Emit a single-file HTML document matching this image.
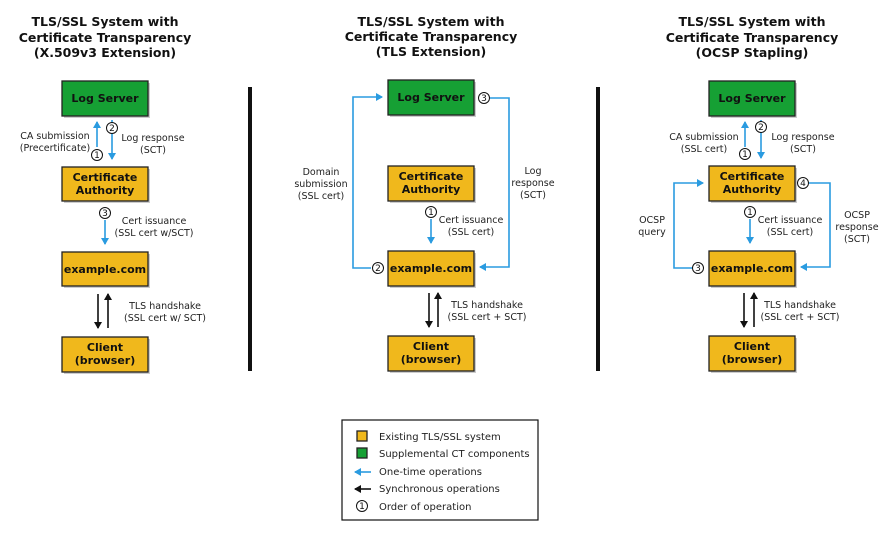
<!DOCTYPE html>
<html><head><meta charset="utf-8"><style>
html,body{margin:0;padding:0;background:#fff;}
svg{display:block;}
.t{font-family:"DejaVu Sans","Liberation Sans",sans-serif;font-weight:bold;font-size:12.5px;fill:#111;text-anchor:middle;}
.b{font-family:"DejaVu Sans","Liberation Sans",sans-serif;font-weight:bold;font-size:11px;fill:#111;text-anchor:middle;}
.l{font-family:"DejaVu Sans","Liberation Sans",sans-serif;font-size:9.5px;fill:#222;text-anchor:middle;}
.ll{font-family:"DejaVu Sans","Liberation Sans",sans-serif;font-size:10px;fill:#222;}
.n{font-family:"DejaVu Sans","Liberation Sans",sans-serif;font-size:9px;fill:#111;text-anchor:middle;}
.y{fill:#f0b81c;stroke:#222;stroke-width:1.3;}
.g{fill:#16a034;stroke:#222;stroke-width:1.3;}
.bl{stroke:#2a9be0;stroke-width:1.6;fill:none;}
.k{stroke:#111;stroke-width:1.6;fill:none;}
.c{fill:#fff;stroke:#111;stroke-width:1;}
.sh{fill:#999;opacity:0.5;}
</style></head><body>
<svg width="894" height="535" viewBox="0 0 894 535" xmlns="http://www.w3.org/2000/svg">
<defs>
<marker id="ab" markerWidth="8" markerHeight="8" refX="6" refY="4" orient="auto" markerUnits="userSpaceOnUse"><path d="M0,0 L7,4 L0,8 z" fill="#2a9be0"/></marker>
<marker id="ak" markerWidth="8" markerHeight="8" refX="6" refY="4" orient="auto" markerUnits="userSpaceOnUse"><path d="M0,0 L7,4 L0,8 z" fill="#111"/></marker>
</defs>

<!-- titles -->
<text class="t" x="105" y="26">TLS/SSL System with</text>
<text class="t" x="105" y="42">Certificate Transparency</text>
<text class="t" x="105" y="57">(X.509v3 Extension)</text>
<text class="t" x="431" y="26">TLS/SSL System with</text>
<text class="t" x="431" y="41">Certificate Transparency</text>
<text class="t" x="431" y="56">(TLS Extension)</text>
<text class="t" x="752" y="26">TLS/SSL System with</text>
<text class="t" x="752" y="42">Certificate Transparency</text>
<text class="t" x="752" y="57">(OCSP Stapling)</text>

<!-- separators -->
<rect x="248" y="87" width="4" height="284" fill="#111"/>
<rect x="596" y="87" width="4" height="284" fill="#111"/>

<!-- shadows -->
<rect class="sh" x="64" y="83" width="86" height="35"/>
<rect class="sh" x="64" y="169" width="86" height="34"/>
<rect class="sh" x="64" y="254" width="86" height="34"/>
<rect class="sh" x="64" y="339" width="86" height="35"/>
<rect class="sh" x="390" y="82" width="86" height="35"/>
<rect class="sh" x="390" y="168" width="86" height="35"/>
<rect class="sh" x="390" y="253" width="86" height="35"/>
<rect class="sh" x="390" y="338" width="86" height="35"/>
<rect class="sh" x="711" y="83" width="86" height="35"/>
<rect class="sh" x="711" y="168" width="86" height="35"/>
<rect class="sh" x="711" y="253" width="86" height="35"/>
<rect class="sh" x="711" y="338" width="86" height="35"/>

<!-- column 1 -->
<rect class="g" x="62" y="81" width="86" height="35"/><text class="b" x="105" y="102">Log Server</text>
<rect class="y" x="62" y="167" width="86" height="34"/><text class="b" x="105" y="181">Certificate</text><text class="b" x="105" y="194">Authority</text>
<rect class="y" x="62" y="252" width="86" height="34"/><text class="b" x="105" y="273">example.com</text>
<rect class="y" x="62" y="337" width="86" height="35"/><text class="b" x="105" y="351">Client</text><text class="b" x="105" y="364">(browser)</text>
<line class="bl" x1="97" y1="147" x2="97" y2="122" marker-end="url(#ab)"/>
<line class="bl" x1="112" y1="120" x2="112" y2="159" marker-end="url(#ab)"/>
<circle class="c" cx="97" cy="155" r="5.5"/><text class="n" x="97" y="158">1</text>
<circle class="c" cx="112" cy="128" r="5.5"/><text class="n" x="112" y="131">2</text>
<text class="l" x="55" y="139">CA submission</text><text class="l" x="55" y="151">(Precertificate)</text>
<text class="l" x="153" y="141">Log response</text><text class="l" x="153" y="153">(SCT)</text>
<line class="bl" x1="105" y1="220" x2="105" y2="244" marker-end="url(#ab)"/>
<circle class="c" cx="105" cy="213" r="5.5"/><text class="n" x="105" y="216">3</text>
<text class="l" x="154" y="224">Cert issuance</text><text class="l" x="154" y="236">(SSL cert w/SCT)</text>
<line class="k" x1="98" y1="294" x2="98" y2="328" marker-end="url(#ak)"/>
<line class="k" x1="108" y1="328" x2="108" y2="294" marker-end="url(#ak)"/>
<text class="l" x="165" y="309">TLS handshake</text><text class="l" x="165" y="321">(SSL cert w/ SCT)</text>

<!-- column 2 -->
<rect class="g" x="388" y="80" width="86" height="35"/><text class="b" x="431" y="101">Log Server</text>
<rect class="y" x="388" y="166" width="86" height="35"/><text class="b" x="431" y="180">Certificate</text><text class="b" x="431" y="193">Authority</text>
<rect class="y" x="388" y="251" width="86" height="35"/><text class="b" x="431" y="272">example.com</text>
<rect class="y" x="388" y="336" width="86" height="35"/><text class="b" x="431" y="350">Client</text><text class="b" x="431" y="363">(browser)</text>
<polyline class="bl" points="371,268 353,268 353,97 382,97" marker-end="url(#ab)"/>
<circle class="c" cx="378" cy="268" r="5.5"/><text class="n" x="378" y="271">2</text>
<polyline class="bl" points="490,98 509,98 509,267 480,267" marker-end="url(#ab)"/>
<circle class="c" cx="484" cy="98" r="5.5"/><text class="n" x="484" y="101">3</text>
<text class="l" x="321" y="175">Domain</text><text class="l" x="321" y="187">submission</text><text class="l" x="321" y="199">(SSL cert)</text>
<text class="l" x="533" y="174">Log</text><text class="l" x="533" y="186">response</text><text class="l" x="533" y="198">(SCT)</text>
<line class="bl" x1="431" y1="219" x2="431" y2="243" marker-end="url(#ab)"/>
<circle class="c" cx="431" cy="212" r="5.5"/><text class="n" x="431" y="215">1</text>
<text class="l" x="471" y="223">Cert issuance</text><text class="l" x="471" y="235">(SSL cert)</text>
<line class="k" x1="429" y1="293" x2="429" y2="327" marker-end="url(#ak)"/>
<line class="k" x1="438" y1="327" x2="438" y2="293" marker-end="url(#ak)"/>
<text class="l" x="487" y="308">TLS handshake</text><text class="l" x="487" y="320">(SSL cert + SCT)</text>

<!-- column 3 -->
<rect class="g" x="709" y="81" width="86" height="35"/><text class="b" x="752" y="102">Log Server</text>
<rect class="y" x="709" y="166" width="86" height="35"/><text class="b" x="752" y="180">Certificate</text><text class="b" x="752" y="193">Authority</text>
<rect class="y" x="709" y="251" width="86" height="35"/><text class="b" x="752" y="272">example.com</text>
<rect class="y" x="709" y="336" width="86" height="35"/><text class="b" x="752" y="350">Client</text><text class="b" x="752" y="363">(browser)</text>
<line class="bl" x1="745" y1="147" x2="745" y2="122" marker-end="url(#ab)"/>
<line class="bl" x1="761" y1="120" x2="761" y2="158" marker-end="url(#ab)"/>
<circle class="c" cx="745" cy="154" r="5.5"/><text class="n" x="745" y="157">1</text>
<circle class="c" cx="761" cy="127" r="5.5"/><text class="n" x="761" y="130">2</text>
<text class="l" x="704" y="140">CA submission</text><text class="l" x="704" y="152">(SSL cert)</text>
<text class="l" x="803" y="140">Log response</text><text class="l" x="803" y="152">(SCT)</text>
<polyline class="bl" points="692,268 674,268 674,183 703,183" marker-end="url(#ab)"/>
<circle class="c" cx="698" cy="268" r="5.5"/><text class="n" x="698" y="271">3</text>
<polyline class="bl" points="809,183 830,183 830,267 801,267" marker-end="url(#ab)"/>
<circle class="c" cx="803" cy="183" r="5.5"/><text class="n" x="803" y="186">4</text>
<text class="l" x="652" y="223">OCSP</text><text class="l" x="652" y="235">query</text>
<text class="l" x="857" y="218">OCSP</text><text class="l" x="857" y="230">response</text><text class="l" x="857" y="242">(SCT)</text>
<line class="bl" x1="750" y1="219" x2="750" y2="243" marker-end="url(#ab)"/>
<circle class="c" cx="750" cy="212" r="5.5"/><text class="n" x="750" y="215">1</text>
<text class="l" x="790" y="223">Cert issuance</text><text class="l" x="790" y="235">(SSL cert)</text>
<line class="k" x1="744" y1="293" x2="744" y2="327" marker-end="url(#ak)"/>
<line class="k" x1="754" y1="327" x2="754" y2="293" marker-end="url(#ak)"/>
<text class="l" x="800" y="308">TLS handshake</text><text class="l" x="800" y="320">(SSL cert + SCT)</text>

<!-- legend -->
<rect x="342" y="420" width="196" height="100" fill="#fff" stroke="#111" stroke-width="1.2"/>
<rect class="y" x="357" y="431" width="10" height="10"/><text class="ll" x="379" y="440">Existing TLS/SSL system</text>
<rect class="g" x="357" y="448" width="10" height="10"/><text class="ll" x="379" y="457">Supplemental CT components</text>
<line class="bl" x1="371" y1="472" x2="355" y2="472" marker-end="url(#ab)"/><text class="ll" x="379" y="475">One-time operations</text>
<line class="k" x1="371" y1="489" x2="355" y2="489" marker-end="url(#ak)"/><text class="ll" x="379" y="492">Synchronous operations</text>
<circle class="c" cx="362" cy="506" r="5.5"/><text class="n" x="362" y="509">1</text><text class="ll" x="379" y="510">Order of operation</text>
</svg>
</body></html>
